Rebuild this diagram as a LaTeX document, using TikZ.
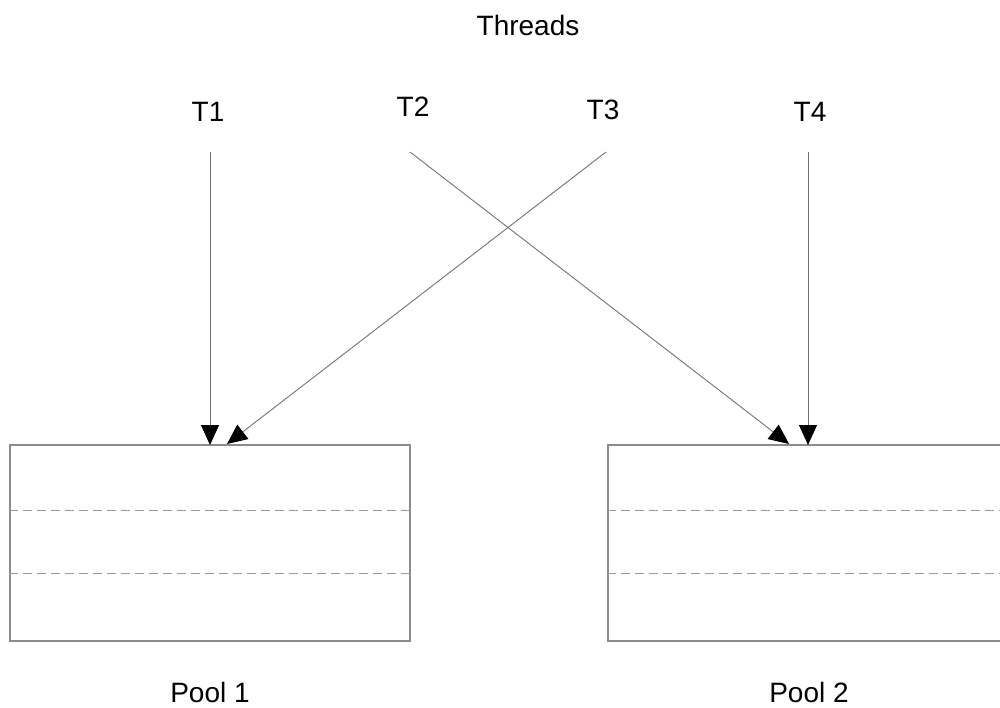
\documentclass[tikz,border=0pt]{standalone}
\usepackage{fontspec}
\setmainfont{Liberation Sans}
\usetikzlibrary{arrows.meta}
\begin{document}
\begin{tikzpicture}[x=1pt,y=-1pt,
  lbl/.style={font=\fontsize{28}{32}\selectfont, inner sep=0pt},
  pool/.style={draw=black!45, line width=1.4pt, minimum width=400pt, minimum height=196pt, inner sep=0pt},
  sep/.style={draw=black!40, line width=1.5pt, dash pattern=on 9pt off 5pt},
  conn/.style={draw=black!55, line width=0.9pt, -{Triangle[length=20pt,width=18pt,black]}}
]
\useasboundingbox (0,0) rectangle (1000,707);
\begin{scope}
\clip (0,0) rectangle (1000,707);
\node[lbl] (threads) at (528,25) {Threads};
\node[lbl] (t1) at (208,112) {T1};
\node[lbl] (t2) at (413,107) {T2};
\node[lbl] (t3) at (603,110) {T3};
\node[lbl] (t4) at (810,112) {T4};
\node[pool] (p1) at (210,543) {};
\node[pool] (p2) at (808,543) {};
\node[lbl] (l1) at (210,692) {Pool 1};
\node[lbl] (l2) at (809,692) {Pool 2};
\draw[sep] ([yshift=-66pt]p1.north west) -- ([yshift=-66pt]p1.north east);
\draw[sep] ([yshift=-129pt]p1.north west) -- ([yshift=-129pt]p1.north east);
\draw[sep] ([yshift=-66pt]p2.north west) -- ([yshift=-66pt]p2.north east);
\draw[sep] ([yshift=-129pt]p2.north west) -- ([yshift=-129pt]p2.north east);
\coordinate (s1) at (210,152);
\coordinate (s2) at (410,152);
\coordinate (s3) at (606,152);
\coordinate (s4) at (808,152);
\coordinate (e1) at (210,445);
\coordinate (e3) at (227,444);
\coordinate (e2) at (789,444);
\coordinate (e4) at (808,445);
\draw[conn] (s1) -- (e1);
\draw[conn] (s3) -- (e3);
\draw[conn] (s2) -- (e2);
\draw[conn] (s4) -- (e4);
\end{scope}
\end{tikzpicture}
\end{document}
